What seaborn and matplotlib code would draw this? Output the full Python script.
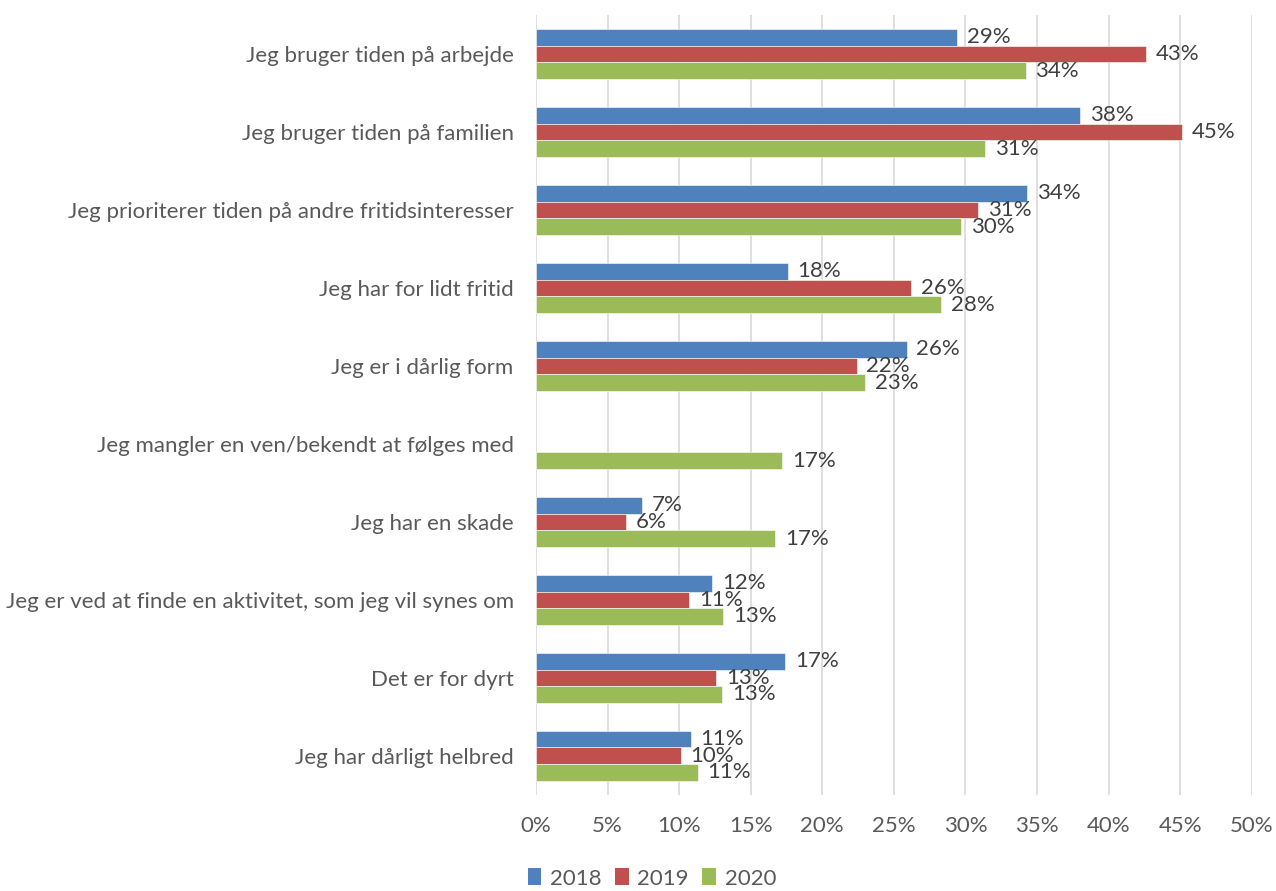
import matplotlib
matplotlib.use("Agg")
import matplotlib.pyplot as plt
import matplotlib.ticker as mticker
from matplotlib.patches import Patch
import numpy as np
import pandas as pd
import seaborn as sns

categories = [
    "Jeg bruger tiden på arbejde",
    "Jeg bruger tiden på familien",
    "Jeg prioriterer tiden på andre fritidsinteresser",
    "Jeg har for lidt fritid",
    "Jeg er i dårlig form",
    "Jeg mangler en ven/bekendt at følges med",
    "Jeg har en skade",
    "Jeg er ved at finde en aktivitet, som jeg vil synes om",
    "Det er for dyrt",
    "Jeg har dårligt helbred",
]
years = ["2018", "2019", "2020"]
values_2018 = [29.4, 38.0, 34.3, 17.6, 25.9, np.nan, 7.4, 12.3, 17.4, 10.8]
values_2019 = [42.6, 45.1, 30.9, 26.2, 22.4, np.nan, 6.3, 10.7, 12.6, 10.1]
values_2020 = [34.2, 31.4, 29.7, 28.3, 23.0, 17.2, 16.7, 13.1, 13.0, 11.3]
colors = ["#4F81BD", "#C0504D", "#9BBB59"]
x_ticks = [0, 5, 10, 15, 20, 25, 30, 35, 40, 45, 50]

df = pd.DataFrame({
    "kategori": categories * 3,
    "år": [years[0]] * 10 + [years[1]] * 10 + [years[2]] * 10,
    "andel": values_2018 + values_2019 + values_2020,
})

sns.set_theme(style="white")
plt.rcParams["font.family"] = ["Lato", "DejaVu Sans"]
text_color = "#595959"
fs = 16

fig = plt.figure(figsize=(12.76, 8.91), dpi=100)
ax = fig.add_axes([0.42, 0.108, 0.561, 0.875])

sns.barplot(
    data=df, y="kategori", x="andel", hue="år", order=categories,
    hue_order=years, palette=colors, orient="h", width=0.64,
    saturation=1, ax=ax, legend=False, edgecolor="white", linewidth=0.4,
)

# value labels at the end of each bar (they may overlap, as in the source layout)
for cont in ax.containers:
    ax.bar_label(cont, fmt=lambda v: f"{v:.0f}%", padding=7,
                 fontsize=fs, color="#404040")

ax.set_xlim(0, 50)
ax.set_xticks(x_ticks)
ax.xaxis.set_major_formatter(mticker.FuncFormatter(lambda v, p: f"{v:.0f}%"))
ax.grid(axis="x", color="#D9D9D9", linewidth=1.2)
ax.grid(axis="y", visible=False)
ax.set_axisbelow(True)
for s in ax.spines.values():
    s.set_visible(False)
ax.set_xlabel("")
ax.set_ylabel("")
ax.tick_params(axis="x", length=0, pad=15, labelsize=fs, labelcolor=text_color)
ax.tick_params(axis="y", length=0, pad=16, labelsize=fs, labelcolor=text_color)

handles = [Patch(facecolor=c, edgecolor="none") for c in colors]
fig.legend(handles, years, loc="center", bbox_to_anchor=(0.511, 0.014),
           ncol=3, frameon=False, fontsize=fs, labelcolor=text_color,
           handlelength=0.6, handleheight=0.8, handletextpad=0.4,
           columnspacing=0.6)

fig.savefig("out.png", dpi=100)
